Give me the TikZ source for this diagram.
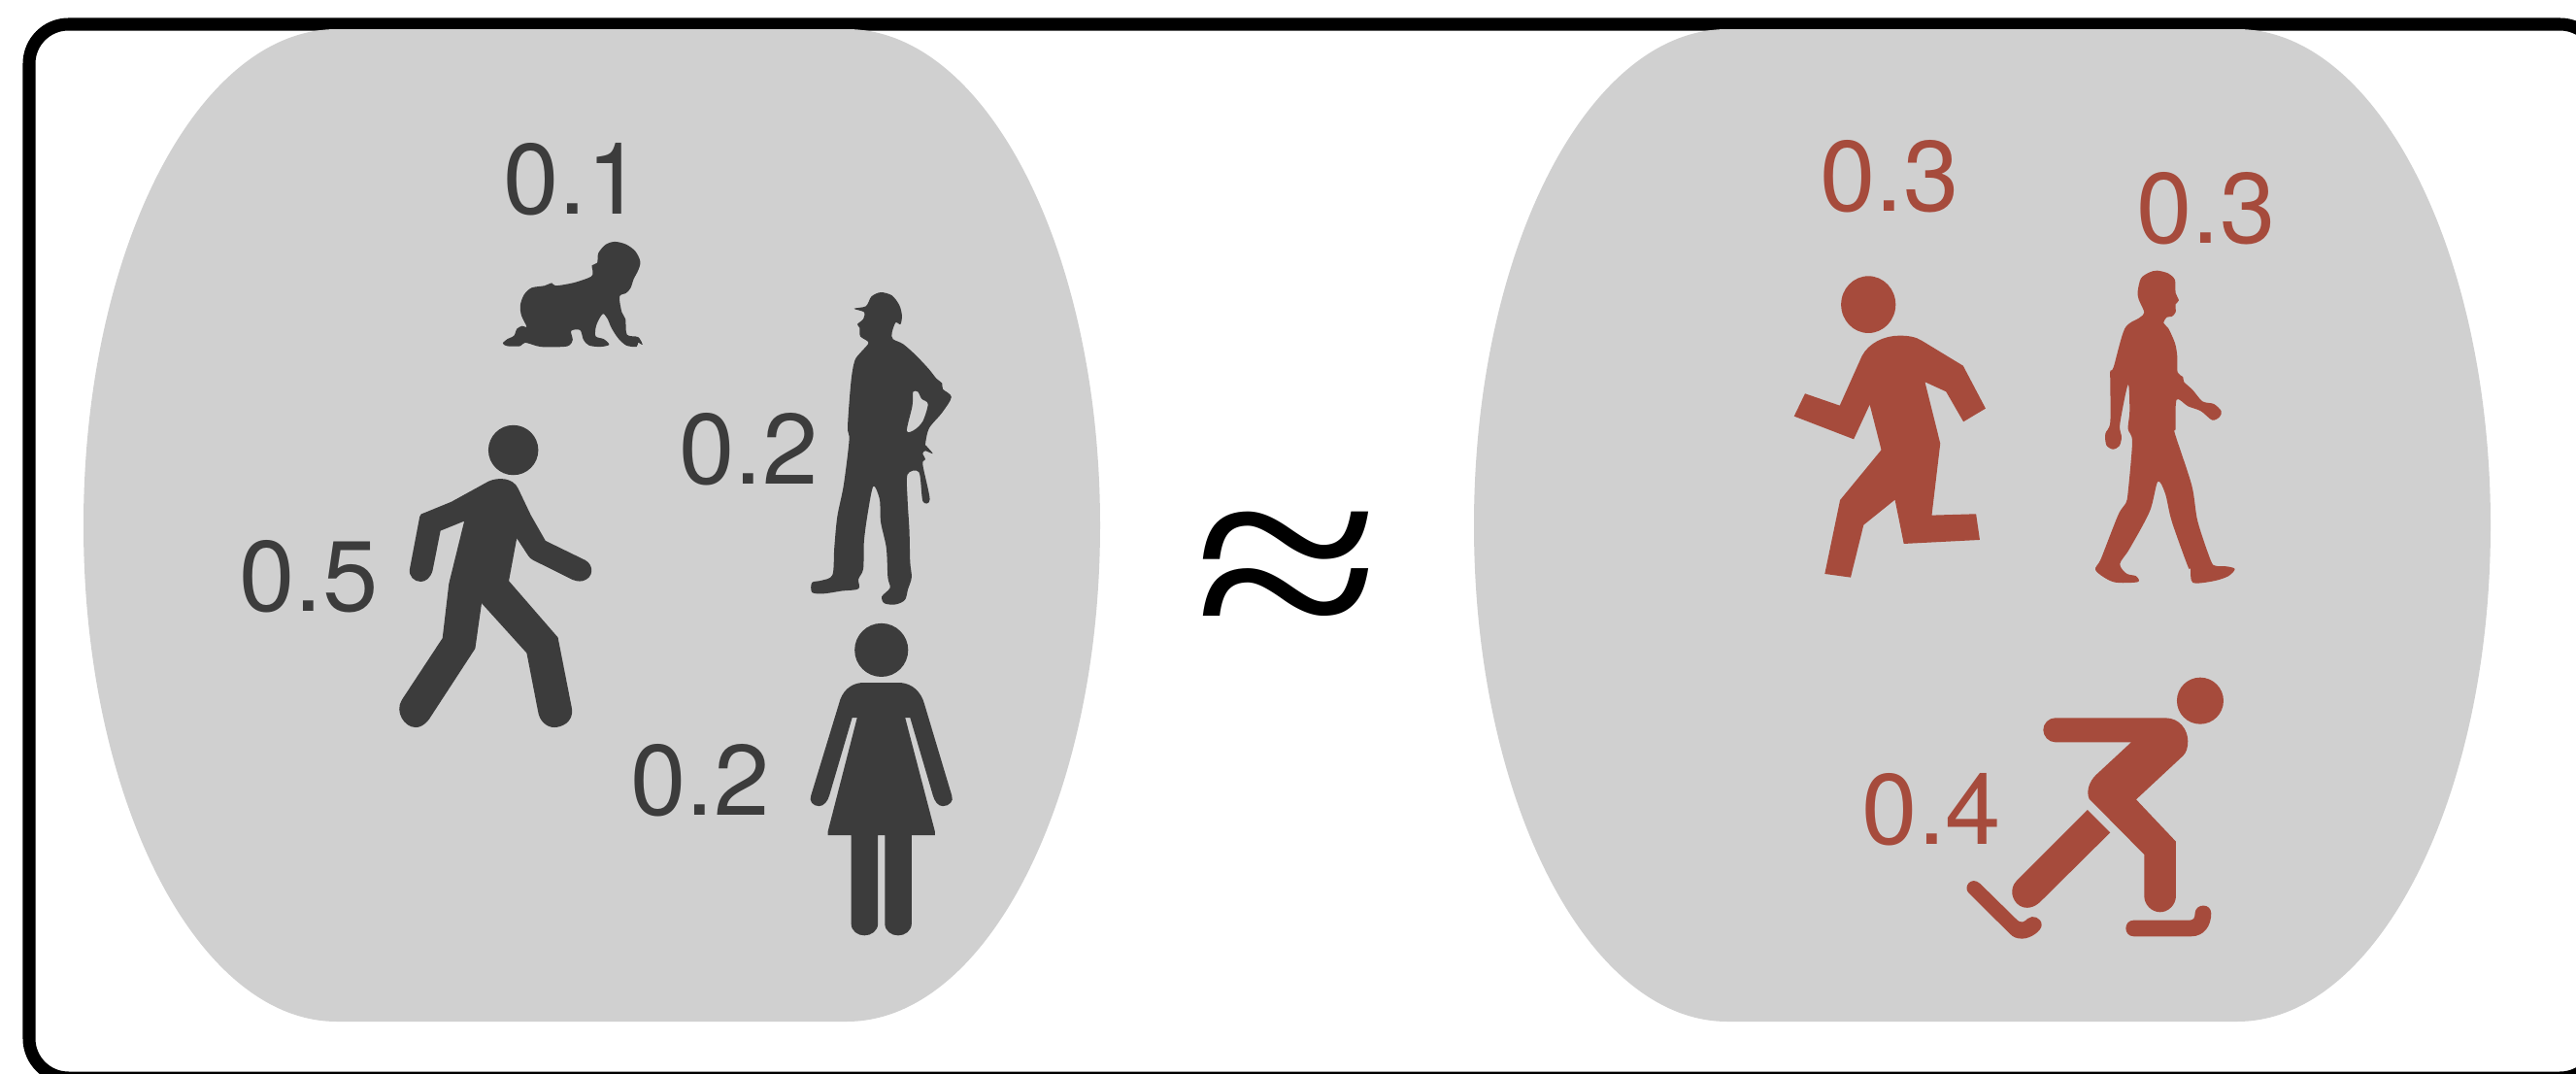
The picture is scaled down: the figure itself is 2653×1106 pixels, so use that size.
\documentclass[tikz,border=0pt]{standalone}
\usepackage{amsmath,amssymb}
\usepackage{fontspec}
\newfontfamily\probfont{TeX Gyre Heros}
\newfontfamily\approxfont{Liberation Serif}
\definecolor{blobgray}{RGB}{208,208,208}
\definecolor{figdark}{RGB}{60,60,60}
\definecolor{figred}{RGB}{166,75,60}
\tikzset{
  problabel/.style={inner sep=0pt,font=\probfont\fontsize{29.3}{30}\selectfont},
  darklabel/.style={problabel,text=figdark},
  redlabel/.style={problabel,text=figred},
  silh/.style={smooth cycle,tension=0.5}
}
\begin{document}
\begin{tikzpicture}[x=0.01cm,y=-0.01cm]
        \clip (0,0) rectangle (2653,1106);
        \fill[white] (0,0) rectangle (2653,1106);
        \draw[line width=3.7pt,rounded corners=11.5pt] (30,25) rectangle (2677,1110);
        \foreach \x in {86,1518}{
            \fill[blobgray,shift={(\x,0)}] (261,30) -- (786,30)
              .. controls (930,30) and (1047,259) .. (1047,541)
              .. controls (1047,823) and (930,1052) .. (786,1052)
              -- (261,1052)
              .. controls (117,1052) and (0,823) .. (0,541)
              .. controls (0,259) and (117,30) .. (261,30) -- cycle;}
        \node[inner sep=0pt,yscale=0.83,font=\approxfont\fontsize{100}{100}\selectfont] (approx) at (1326,602) {≈};
        % left side
        \node[darklabel] (lblbaby) at (590,185) {0.1};
        \node[darklabel] (lblworker) at (771,463) {0.2};
        \node[darklabel] (lblwalker) at (318,594) {0.5};
        \node[darklabel] (lblwoman) at (721,803.5) {0.2};
        \begin{scope}[shift={(400,100)},xscale=0.3827,yscale=0.3571,figdark]
          % baby
          \fill plot[silh] coordinates {(565,450) (585,425) (610,417) (640,425) (665,445) (678,475) (672,500) (660,525) (652,550) (640,565) (622,575) (628,620) (638,640) (642,685) (672,692) (684,714) (672,708) (668,720) (640,716) (618,695) (600,665) (590,640) (578,625) (566,642) (558,665) (558,690) (580,698) (594,714) (570,720) (540,716) (525,700) (516,672) (492,674) (496,700) (488,715) (470,720) (410,720) (368,708) (355,718) (320,718) (308,710) (320,698) (338,688) (346,668) (360,660) (372,662) (358,630) (355,600) (365,570) (385,550) (420,544) (440,536) (450,544) (500,535) (545,518) (550,505) (548,485) (562,478)};
          % worker, with the gap under the arm
          \fill[even odd rule] plot[silh] coordinates {(1253,610) (1285,603) (1300,575) (1325,563) (1355,572) (1375,600) (1382,630) (1378,655) (1365,650) (1355,680) (1358,698) (1385,712) (1420,745) (1455,785) (1475,812) (1490,825) (1492,842) (1515,865) (1490,910) (1455,955) (1445,1000) (1447,1005) (1465,1028) (1445,1020) (1438,1028) (1445,1045) (1438,1060) (1457,1160) (1438,1165) (1428,1082) (1397,1088) (1397,1160) (1402,1250) (1404,1340) (1408,1385) (1398,1420) (1390,1450) (1365,1463) (1335,1460) (1328,1440) (1350,1415) (1344,1385) (1340,1300) (1325,1225) (1322,1160) (1305,1122) (1290,1200) (1280,1280) (1278,1360) (1265,1390) (1265,1418) (1220,1424) (1170,1432) (1140,1428) (1140,1400) (1165,1394) (1195,1378) (1200,1300) (1208,1210) (1225,1120) (1240,990) (1236,950) (1245,820) (1255,760) (1272,735) (1292,708) (1270,690) (1268,665) (1262,655) (1278,640) (1280,620)}
            plot[silh] coordinates {(1412,850) (1425,850) (1435,870) (1452,885) (1438,935) (1415,960) (1395,962) (1410,890)};
        \end{scope}
        \begin{scope}[shift={(220,400)},xscale=0.5102,yscale=0.3827,figdark]
          % walking figure
          \fill (605,166) ellipse (50.4 and 67.2);
          \fill (555,250) .. controls (575,238) and (605,240) .. (615,270) -- (640,340) -- (670,410) -- (750,462) .. controls (768,475) and (768,510) .. (745,518) .. controls (737,520) and (730,518) .. (725,515) -- (645,462) .. controls (640,458) and (638,456) .. (635,450) -- (612,403) -- (596,518) -- (695,670) -- (723,860) .. controls (728,900) and (700,912) .. (688,912) .. controls (672,912) and (658,895) .. (655,870) -- (632,712) -- (541,578) -- (528,700) -- (435,890) .. controls (425,908) and (415,912) .. (408,912) .. controls (385,912) and (365,870) .. (380,838) -- (462,672) -- (475,525) -- (506,357) -- (458,383) -- (442,490) .. controls (438,510) and (428,520) .. (418,520) .. controls (405,520) and (393,505) .. (396,485) -- (416,345) .. controls (417,338) and (420,337) .. (425,335) -- (480,305) -- cycle;
          % woman
          \fill (1348,704) ellipse (54 and 72);
          \fill (1307,792) -- (1388,792) .. controls (1410,795) and (1428,815) .. (1435,850) -- (1490,1095) .. controls (1495,1110) and (1485,1124) .. (1472,1124) .. controls (1462,1124) and (1455,1110) .. (1452,1095) -- (1406,886) -- (1396,886) -- (1456,1192) -- (1456,1202) -- (1409,1202) -- (1409,1440) .. controls (1409,1460) and (1395,1472) .. (1382,1472) .. controls (1368,1472) and (1355,1460) .. (1355,1440) -- (1355,1202) -- (1341,1202) -- (1341,1440) .. controls (1341,1460) and (1327,1472) .. (1314,1472) .. controls (1300,1472) and (1287,1460) .. (1287,1440) -- (1287,1202) -- (1240,1202) -- (1240,1192) -- (1299,886) -- (1289,886) -- (1243,1095) .. controls (1240,1110) and (1232,1124) .. (1222,1124) .. controls (1210,1124) and (1201,1110) .. (1206,1095) -- (1262,850) .. controls (1268,815) and (1285,795) .. (1307,792) -- cycle;
        \end{scope}
        % right side
        \node[redlabel] (lblrunner) at (1946,182) {0.3};
        \node[redlabel] (lblman) at (2272,215) {0.3};
        \node[redlabel] (lblskater) at (1989.5,833.5) {0.4};
        \begin{scope}[shift={(1800,120)},xscale=0.3509,yscale=0.3333,figred]
          % running figure
          \fill (354,581) ellipse (80 and 88);
          \fill (335,740) .. controls (355,700) and (400,677) .. (445,677) .. controls (475,677) and (495,682) .. (510,692) -- (632,770) -- (698,902) -- (633,943) -- (582,850) -- (520,820) -- (565,1010) -- (540,1232) -- (670,1228) -- (681,1308) -- (458,1320) -- (432,1184) -- (340,1262) -- (302,1424) -- (226,1413) -- (271,1185) -- (392,1030) -- (358,890) -- (311,997) -- (136,926) -- (168,856) -- (270,893) -- cycle;
        \end{scope}
        \begin{scope}[shift={(1900,250)},scale=0.3333,figred]
          % walking man
          \fill plot[silh] coordinates {(905,150) (915,110) (940,92) (965,86) (1000,95) (1020,115) (1022,155) (1032,178) (1022,190) (1022,215) (1010,228) (995,230) (985,248) (1000,265) (1020,310) (1027,350) (1028,400) (1045,415) (1048,430) (1075,455) (1105,490) (1140,498) (1163,520) (1158,538) (1135,548) (1100,520) (1060,505) (1025,485) (1022,575) (1020,590) (1072,750) (1090,860) (1130,980) (1145,998) (1180,1000) (1205,1008) (1185,1030) (1140,1045) (1075,1050) (1068,1005) (1060,1000) (1010,860) (990,775) (967,738) (942,830) (880,945) (850,992) (870,1022) (900,1030) (905,1048) (830,1048) (775,1012) (792,975) (845,840) (868,805) (875,770) (888,615) (875,575) (880,520) (875,438) (850,560) (855,600) (848,628) (828,638) (808,625) (805,590) (820,555) (820,430) (820,395) (830,385) (865,265) (910,232) (925,215) (908,175)};
        \end{scope}
        \begin{scope}[shift={(1880,670)},scale=0.3333,figred]
          % skater
          \fill (1158,155) circle (72);
          \fill (710,208) -- (1050,208) .. controls (1095,208) and (1120,245) .. (1120,280) .. controls (1120,300) and (1115,315) .. (1105,325) -- (960,460) -- (1083,590) -- (1083,758) .. controls (1083,785) and (1060,808) .. (1034,808) .. controls (1008,808) and (985,785) .. (985,758) -- (985,630) -- (815,458) .. controls (805,435) and (815,405) .. (835,385) -- (945,283) -- (710,283) .. controls (690,283) and (673,265) .. (673,245) .. controls (673,225) and (690,208) .. (710,208) -- cycle;
          \fill (810,492) -- (880,562) -- (665,775) .. controls (645,795) and (620,800) .. (600,788) .. controls (575,772) and (568,735) .. (590,712) -- cycle;
          \fill (478,720) -- (590,830) .. controls (605,845) and (615,838) .. (625,828) .. controls (640,815) and (668,825) .. (668,848) .. controls (668,865) and (635,890) .. (608,890) .. controls (590,890) and (580,885) .. (570,875) -- (442,748) .. controls (425,730) and (450,695) .. (478,720) -- cycle;
          \fill (953,833) -- (1125,833) .. controls (1138,833) and (1142,825) .. (1142,810) .. controls (1145,780) and (1192,780) .. (1192,812) .. controls (1192,850) and (1170,883) .. (1130,883) -- (953,883) .. controls (920,883) and (920,833) .. (953,833) -- cycle;
        \end{scope}
      \end{tikzpicture}
\end{document}
